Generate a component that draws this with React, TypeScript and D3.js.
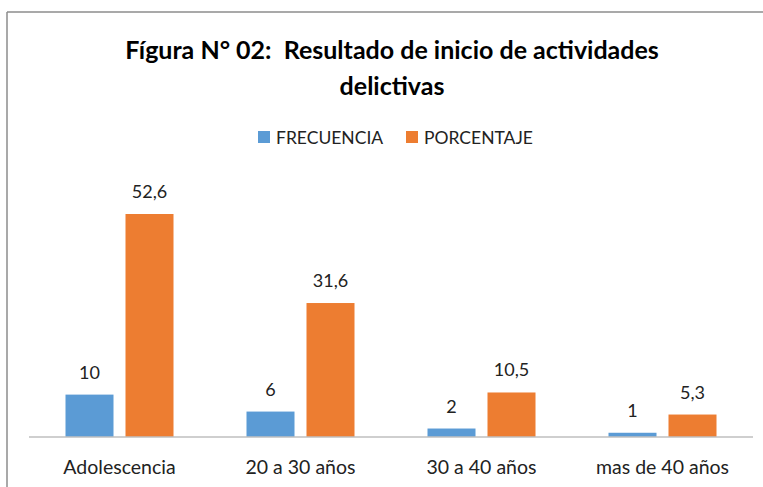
import React from "react";
import * as d3 from "d3";

const categories = ["Adolescencia", "20 a 30 años", "30 a 40 años", "mas de 40 años"];
const frecuencia = [10, 6, 2, 1];
const porcentaje = [52.6, 31.6, 10.5, 5.3];
const seriesNames = ["FRECUENCIA", "PORCENTAJE"];
const colors = ["#5B9BD5", "#ED7D31"];
const titleLines = ["Fígura N° 02:  Resultado de inicio de actividades", "delictivas"];

const fmt = (v: number) => (Number.isInteger(v) ? String(v) : v.toFixed(1).replace(".", ","));

export default function App() {
  const W = 763, H = 487;
  const left = 29, right = 753, baseY = 437;
  const x0 = d3.scaleBand<string>().domain(categories).range([left, right]).paddingInner(0).paddingOuter(0);
  const x1 = d3.scaleBand<string>().domain(seriesNames).range([0, 108]).paddingInner(0.2);
  const y = d3.scaleLinear().domain([0, 52.6]).range([baseY, 214]);
  const series = [frecuencia, porcentaje];
  const font = "Lato, 'Open Sans', sans-serif";
  const groupOffset = (x0.bandwidth() - 108) / 2;

  return (
    <svg width={W} height={H} style={{ position: "absolute", left: 0, top: 0 }}>
      <rect x={0} y={0} width={W} height={H} fill="#fff" />
      <line x1={7} y1={12} x2={W} y2={12} stroke="#8c8c8c" strokeWidth={1.5} />
      <line x1={7} y1={12} x2={7} y2={H} stroke="#8c8c8c" strokeWidth={1.5} />
      {titleLines.map((t, i) => (
        <text key={i} x={392} y={59 + i * 36} textAnchor="middle" fontFamily={font} fontWeight="bold" fontSize={25} fill="#000" style={{ whiteSpace: "pre" }} xmlSpace="preserve">
          {t}
        </text>
      ))}
      {seriesNames.map((s, i) => {
        const lx = [258, 406][i];
        return (
          <g key={s}>
            <rect x={lx} y={131} width={12} height={12} fill={colors[i]} />
            <text x={lx + 18} y={144} fontFamily={font} fontSize={17.5} fill="#222">{s}</text>
          </g>
        );
      })}
      {categories.map((c, ci) => (
        <g key={c} transform={`translate(${x0(c)! + groupOffset},0)`}>
          {series.map((vals, si) => {
            const bx = x1(seriesNames[si])!;
            const v = vals[ci];
            return (
              <g key={si}>
                <rect x={bx} y={y(v)} width={x1.bandwidth()} height={baseY - y(v)} fill={colors[si]} />
                <text x={bx + x1.bandwidth() / 2} y={y(v) - 16} textAnchor="middle" fontFamily={font} fontSize={18} fill="#222">
                  {fmt(v)}
                </text>
              </g>
            );
          })}
        </g>
      ))}
      <line x1={left} y1={baseY} x2={right} y2={baseY} stroke="#bfbfbf" strokeWidth={1.5} />
      {categories.map((c) => (
        <text key={c} x={x0(c)! + x0.bandwidth() / 2} y={474} textAnchor="middle" fontFamily={font} fontSize={19.5} fill="#222">
          {c}
        </text>
      ))}
    </svg>
  );
}
